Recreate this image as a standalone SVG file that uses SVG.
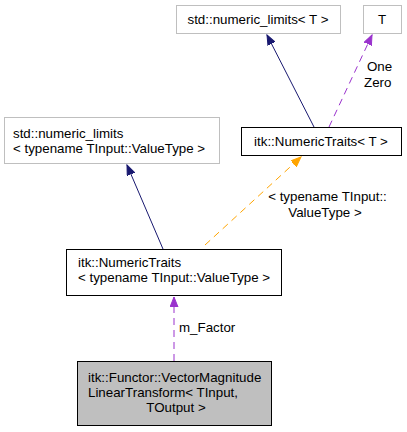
<svg xmlns="http://www.w3.org/2000/svg" width="407" height="432" viewBox="0 0 407 432">
<style>
text{font-family:"Liberation Sans",Arial,sans-serif;font-size:13.33px;fill:#000}
.g{fill:#fff;stroke:#bfbfbf;stroke-width:1}
.b{fill:#fff;stroke:#000;stroke-width:1}
.s{fill:#bfbfbf;stroke:#000;stroke-width:1}
.e{fill:none;stroke-width:1}
.m{text-anchor:middle}
</style>
<defs>
<marker id="an" markerUnits="userSpaceOnUse" markerWidth="11" markerHeight="9" refX="10" refY="4.5" orient="auto"><path d="M0,0.5L10,4.5L0,8.5z" fill="#191970" stroke="#191970"/></marker>
<marker id="ap" markerUnits="userSpaceOnUse" markerWidth="11" markerHeight="9" refX="10" refY="4.5" orient="auto"><path d="M0,0.5L10,4.5L0,8.5z" fill="#9a32cd" stroke="#9a32cd"/></marker>
<marker id="ao" markerUnits="userSpaceOnUse" markerWidth="11" markerHeight="9" refX="10" refY="4.5" orient="auto"><path d="M0,0.5L10,4.5L0,8.5z" fill="#ffa500" stroke="#ffa500"/></marker>
</defs>
<g id="connectors">
<path class="e" d="M314,127L267,35" stroke="#191970" marker-end="url(#an)"/>
<path class="e" d="M329,127L372,35" stroke="#9a32cd" stroke-dasharray="7,5" marker-end="url(#ap)"/>
<text x="367" y="71">One</text>
<text x="364" y="87">Zero</text>
<path class="e" d="M163,249L127,165" stroke="#191970" marker-end="url(#an)"/>
<path class="e" d="M205,245L301,157" stroke="#ffa500" stroke-dasharray="7,5" marker-end="url(#ao)"/>
<text class="m" x="327.5" y="201">&lt; typename TInput::</text>
<text class="m" x="325" y="217">ValueType &gt;</text>
<path class="e" d="M174,361L174,297" stroke="#9a32cd" stroke-dasharray="7,5" marker-end="url(#ap)"/>
<text x="179" y="332">m_Factor</text>
</g>
<g id="node_std_numeric_limits_T">
<rect class="g" x="176.5" y="5.5" width="164" height="28"/>
<text class="m" x="258" y="24">std::numeric_limits&lt; T &gt;</text>
</g>
<g id="node_T">
<rect class="g" x="363.5" y="5.5" width="38" height="28"/>
<text class="m" x="382" y="24">T</text>
</g>
<g id="node_NumericTraits_T">
<rect class="b" x="241.5" y="127.5" width="160" height="28"/>
<text class="m" x="321" y="146">itk::NumericTraits&lt; T &gt;</text>
</g>
<g id="node_std_numeric_limits_TInput">
<rect class="g" x="4.5" y="117.5" width="215" height="46"/>
<text x="13" y="138">std::numeric_limits</text>
<text x="13" y="153">&lt; typename TInput::ValueType &gt;</text>
</g>
<g id="node_NumericTraits_TInput">
<rect class="b" x="66.5" y="249.5" width="215" height="46"/>
<text x="78" y="267">itk::NumericTraits</text>
<text x="78" y="282">&lt; typename TInput::ValueType &gt;</text>
</g>
<g id="node_VectorMagnitudeLinearTransform">
<rect class="s" x="77.5" y="361.5" width="194" height="64"/>
<text x="88" y="382">itk::Functor::VectorMagnitude</text>
<text x="88" y="397">LinearTransform&lt; TInput,</text>
<text class="m" x="176" y="412">TOutput &gt;</text>
</g>
</svg>
